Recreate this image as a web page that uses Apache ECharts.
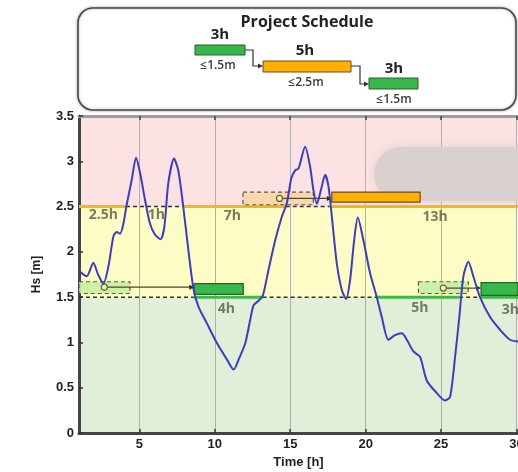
<!DOCTYPE html>
<html>
<head>
<meta charset="utf-8">
<script src="https://cdn.jsdelivr.net/npm/echarts@6/dist/echarts.min.js"></script>
<style>
  html, body { margin: 0; padding: 0; background: #fff; }
  #chart { width: 518px; height: 472px; }
</style>
</head>
<body>
<div id="chart"></div>
<script>
// Significant wave height time series (hours, metres)
const timeH = [1.0, 1.51, 1.95, 2.24, 2.62, 2.95, 3.28, 3.5, 3.72, 3.94, 4.16, 4.49, 4.78, 5.05, 5.38, 5.71, 6.04, 6.41, 6.66, 6.92,
  7.3, 7.58, 7.91, 8.25, 8.6, 8.93, 9.48, 10.15, 10.81, 11.25, 11.58, 12.02, 12.35, 12.57, 12.9, 13.19, 13.56, 14.01, 14.45, 14.78,
  15.07, 15.33, 15.55, 15.99, 16.32, 16.54, 16.77, 17.03, 17.32, 17.54, 17.76, 18.09, 18.42, 18.71, 18.97, 19.24, 19.48, 19.85, 20.3, 20.74,
  21.07, 21.51, 21.95, 22.4, 22.73, 23.17, 23.61, 24.05, 24.72, 25.26, 25.6, 25.93, 26.21, 26.48, 26.81, 27.14, 27.58, 28.25, 28.91, 29.57, 30.1];
const hsM = [1.79, 1.73, 1.88, 1.76, 1.65, 1.84, 2.17, 2.22, 2.2, 2.31, 2.52, 2.79, 3.04, 2.87, 2.57, 2.31, 2.19, 2.14, 2.28, 2.76,
  3.03, 2.9, 2.5, 2.02, 1.58, 1.39, 1.21, 0.99, 0.81, 0.7, 0.81, 0.99, 1.25, 1.41, 1.46, 1.52, 1.8, 2.13, 2.39, 2.54,
  2.81, 2.9, 2.92, 3.16, 2.94, 2.68, 2.53, 2.68, 2.85, 2.72, 2.39, 1.87, 1.58, 1.48, 1.69, 2.13, 2.38, 2.13, 1.76, 1.5,
  1.28, 1.03, 1.08, 1.1, 1.03, 0.9, 0.84, 0.58, 0.44, 0.36, 0.4, 0.84, 1.28, 1.73, 1.89, 1.73, 1.5, 1.28, 1.14, 1.03, 1.01];

// Axis ticks
const xTicks = [5, 10, 15, 20, 25, 30];
const T_MIN = 1, T_MAX = 30.1;

// Operational limits (m) and the bands they define
const limitLow = 1.5, limitHigh = 2.5;

// Limit line pieces: [start, end] in hours
const highWindowSegs = [[1, 4.12], [7.92, 14.7], [17.6, 30.1]];   // Hs below 2.5 m
const highExceedSegs = [[4.12, 7.92], [14.7, 17.6]];              // Hs above 2.5 m
const lowWindowSegs = [[8.6, 13.17], [20.72, 26.2], [27.6, 30.1]]; // Hs below 1.5 m
const lowExceedSegs = [[1, 8.6], [13.17, 20.72], [26.2, 27.6]];    // Hs above 1.5 m

// Planned task windows (kind 0 = ≤1.5 m, 1 = ≤2.5 m)
const plannedStart = [0.8, 11.87, 23.5];
const plannedEnd = [4.38, 16.53, 26.8];
const plannedBottom = [1.54, 2.52, 1.54];
const plannedTop = [1.67, 2.66, 1.67];
const plannedKind = [0, 1, 0];

// Executed tasks
const taskStart = [8.64, 17.76, 27.65];
const taskEnd = [11.89, 23.61, 30.65];
const taskBottom = [1.53, 2.55, 1.52];
const taskTop = [1.65, 2.66, 1.66];
const taskKind = [0, 1, 0];

// Delay links: planned midpoint -> task start, at level
const linkFrom = [2.68, 14.29, 25.15];
const linkTo = [8.64, 17.76, 27.65];
const linkLevel = [1.61, 2.59, 1.6];

// Weather window durations
const windowText = ['2.5h', '1h', '7h', '13h', '4h', '5h', '3h'];
const windowTime = [2.62, 6.13, 11.16, 24.6, 10.76, 23.6, 29.6];
const windowLevel = [2.41, 2.41, 2.4, 2.39, 1.37, 1.38, 1.36];

// Schedule diagram
const scheduleDur = ['3h', '5h', '3h'];
const scheduleLimit = ['≤1.5m', '≤2.5m', '≤1.5m'];

const FONT = '"Liberation Sans", Arial, sans-serif';
const FONT2 = '"Open Sans", Lato, sans-serif';
const kindFill = ['#36b84a', '#ffb000'];
const kindStroke = ['#2e5d2e', '#6e4c10'];
const plannedFill = ['#c5eea2', '#fcd5a6'];

const chart = echarts.init(document.getElementById('chart'), null, { renderer: 'canvas' });

function segSeries(segs, level, style, z) {
  return segs.map(s => ({
    type: 'line', silent: true, showSymbol: false, z: z,
    data: [[s[0], level], [s[1], level]],
    lineStyle: style
  }));
}

function clipTo(params, r) {
  return echarts.graphic.clipRectByRect(r, {
    x: params.coordSys.x, y: params.coordSys.y,
    width: params.coordSys.width, height: params.coordSys.height
  });
}

const plannedData = plannedStart.map((s, i) => [s, plannedEnd[i], plannedBottom[i], plannedTop[i], plannedKind[i]]);
const taskData = taskStart.map((s, i) => [s, taskEnd[i], taskBottom[i], taskTop[i], taskKind[i]]);
const linkData = linkFrom.map((s, i) => [s, linkTo[i], linkLevel[i]]);

function rectItem(params, api, planned) {
  const p0 = api.coord([api.value(0), api.value(3)]);
  const p1 = api.coord([api.value(1), api.value(2)]);
  const k = api.value(4);
  const r = clipTo(params, { x: p0[0], y: p0[1], width: p1[0] - p0[0], height: p1[1] - p0[1] });
  if (!r) return null;
  return {
    type: 'rect', shape: r,
    style: planned
      ? { fill: plannedFill[k], stroke: '#4a4a3a', lineWidth: 1.2, lineDash: [4, 3], opacity: 0.9 }
      : { fill: kindFill[k], stroke: kindStroke[k], lineWidth: 1.2 }
  };
}

const option = {
  backgroundColor: '#fff',
  animation: false,
  grid: { left: 79, right: 0, top: 116, bottom: 39, containLabel: false, outerBoundsMode: 'none' },
  xAxis: [{
    type: 'value', min: T_MIN, max: T_MAX, position: 'bottom', z: 1,
    name: 'Time [h]', nameLocation: 'middle', nameGap: 22,
    nameTextStyle: { fontFamily: FONT, fontWeight: 'bold', fontSize: 13, color: '#222' },
    axisLine: { show: true, onZero: false, lineStyle: { color: '#454545', width: 3 } },
    axisTick: { show: true, inside: true, length: 4, customValues: xTicks, lineStyle: { color: '#333', width: 1.5 } },
    axisLabel: { customValues: xTicks, fontFamily: FONT, fontWeight: 'bold', fontSize: 13, color: '#222', margin: 5 },
    splitLine: { show: true, lineStyle: { color: '#b0b0b0', width: 1 } }
  }, {
    type: 'value', min: T_MIN, max: T_MAX, position: 'top', z: 3,
    axisLine: { show: true, onZero: false, lineStyle: { color: '#9d9d9d', width: 3 } },
    axisTick: { show: true, inside: true, length: 4, customValues: xTicks, lineStyle: { color: '#444', width: 1.5 } },
    axisLabel: { show: false },
    splitLine: { show: false }
  }],
  yAxis: {
    type: 'value', min: 0, max: 3.5, interval: 0.5, z: 3,
    name: 'Hs [m]', nameLocation: 'middle', nameGap: 36, nameRotate: 90,
    nameTextStyle: { fontFamily: FONT, fontWeight: 'bold', fontSize: 12, color: '#222' },
    axisLine: { show: true, lineStyle: { color: '#454545', width: 3 } },
    axisTick: { show: true, inside: true, length: 4, lineStyle: { color: '#333', width: 1.5 } },
    axisLabel: { fontFamily: FONT, fontWeight: 'bold', fontSize: 13, color: '#222', margin: 5 },
    splitLine: { show: false }
  },
  graphic: [
    // soft grey patch in the upper band
    {
      type: 'rect', z: 2, silent: true,
      shape: { x: 374, y: 147, width: 150, height: 54, r: [27, 0, 0, 27] },
      style: { fill: '#d8cfcf', shadowBlur: 8, shadowColor: '#d8cfcf', opacity: 0.9 }
    },
    // schedule diagram
    {
      type: 'group', z: 20,
      children: [
        { type: 'rect', shape: { x: 78, y: 8, width: 438, height: 102, r: 15 },
          style: { fill: '#fff', stroke: '#4a4a4a', lineWidth: 1.6, shadowBlur: 3, shadowColor: 'rgba(0,0,0,0.35)' } },
        { type: 'text', x: 307, y: 22, style: { text: 'Project Schedule', font: 'bold 16px ' + FONT2, fill: '#222', align: 'center', verticalAlign: 'middle' } },
        { type: 'rect', shape: { x: 195, y: 45, width: 50, height: 10 }, style: { fill: kindFill[0], stroke: kindStroke[0], lineWidth: 1 } },
        { type: 'rect', shape: { x: 263, y: 61, width: 88, height: 11 }, style: { fill: kindFill[1], stroke: kindStroke[1], lineWidth: 1 } },
        { type: 'rect', shape: { x: 369, y: 78, width: 49, height: 11 }, style: { fill: kindFill[0], stroke: kindStroke[0], lineWidth: 1 } },
        { type: 'polyline', shape: { points: [[245, 50], [253, 50], [253, 66], [261, 66]] }, style: { stroke: '#333', lineWidth: 1.2, fill: null } },
        { type: 'polygon', shape: { points: [[263, 66], [258, 63.5], [258, 68.5]] }, style: { fill: '#333' } },
        { type: 'polyline', shape: { points: [[351, 66], [360, 66], [360, 84], [367, 84]] }, style: { stroke: '#333', lineWidth: 1.2, fill: null } },
        { type: 'polygon', shape: { points: [[369, 84], [364, 81.5], [364, 86.5]] }, style: { fill: '#333' } },
        { type: 'text', x: 220, y: 35, style: { text: scheduleDur[0], font: 'bold 15px ' + FONT2, fill: '#222', align: 'center', verticalAlign: 'middle' } },
        { type: 'text', x: 218, y: 66, style: { text: scheduleLimit[0], font: '600 12px ' + FONT2, fill: '#3a3a3a', align: 'center', verticalAlign: 'middle' } },
        { type: 'text', x: 305, y: 51, style: { text: scheduleDur[1], font: 'bold 15px ' + FONT2, fill: '#222', align: 'center', verticalAlign: 'middle' } },
        { type: 'text', x: 306, y: 83, style: { text: scheduleLimit[1], font: '600 12px ' + FONT2, fill: '#3a3a3a', align: 'center', verticalAlign: 'middle' } },
        { type: 'text', x: 394, y: 69, style: { text: scheduleDur[2], font: 'bold 15px ' + FONT2, fill: '#222', align: 'center', verticalAlign: 'middle' } },
        { type: 'text', x: 394, y: 100, style: { text: scheduleLimit[2], font: '600 12px ' + FONT2, fill: '#3a3a3a', align: 'center', verticalAlign: 'middle' } }
      ]
    }
  ],
  series: [
    // background bands
    {
      type: 'line', data: [], silent: true, z: 0,
      markArea: {
        silent: true, z: 0,
        data: [
          [{ yAxis: 0, itemStyle: { color: '#e1efd8' } }, { yAxis: limitLow }],
          [{ yAxis: limitLow, itemStyle: { color: '#fefcc5' } }, { yAxis: limitHigh }],
          [{ yAxis: limitHigh, itemStyle: { color: '#fde2e3' } }, { yAxis: 3.5 }]
        ]
      }
    },
    ...segSeries(highWindowSegs, limitHigh, { color: '#f2b81a', width: 3 }, 4),
    ...segSeries(lowWindowSegs, limitLow, { color: '#40b845', width: 3 }, 4),
    ...segSeries(highExceedSegs, limitHigh, { color: '#333', width: 1.5, type: [4, 3] }, 5),
    ...segSeries(lowExceedSegs, limitLow, { color: '#333', width: 1.5, type: [4, 3] }, 5),
    {
      type: 'custom', z: 6, silent: true,
      data: plannedData,
      renderItem: (params, api) => rectItem(params, api, true)
    },
    {
      type: 'custom', z: 7, silent: true,
      data: linkData,
      renderItem: (params, api) => {
        const a = api.coord([api.value(0), api.value(2)]);
        const b = api.coord([api.value(1), api.value(2)]);
        return {
          type: 'group',
          children: [
            { type: 'line', shape: { x1: a[0], y1: a[1], x2: b[0] - 3, y2: b[1] }, style: { stroke: '#4b4b2b', lineWidth: 1.2 } },
            { type: 'polygon', shape: { points: [[b[0], b[1]], [b[0] - 5, b[1] - 2.5], [b[0] - 5, b[1] + 2.5]] }, style: { fill: '#2b2b1b' } },
            { type: 'circle', shape: { cx: a[0], cy: a[1], r: 3 }, style: { fill: '#f4f0c0', stroke: '#6a6530', lineWidth: 1.2 } }
          ]
        };
      }
    },
    {
      type: 'custom', z: 8, silent: true,
      data: taskData,
      renderItem: (params, api) => rectItem(params, api, false)
    },
    {
      type: 'line', z: 10, silent: true, showSymbol: false,
      data: timeH.map((t, i) => [t, hsM[i]]),
      smooth: 0.25,
      lineStyle: { color: '#3c3cc6', width: 2 }
    },
    {
      type: 'scatter', z: 12, silent: true, symbolSize: 0,
      data: windowTime.map((t, i) => ({ value: [t, windowLevel[i]], name: windowText[i] })),
      label: {
        show: true, position: 'inside', formatter: p => p.name,
        fontFamily: FONT2, fontWeight: 'bold', fontSize: 14, color: '#5a5a3e'
      }
    }
  ]
};

chart.setOption(option);
</script>
</body>
</html>
